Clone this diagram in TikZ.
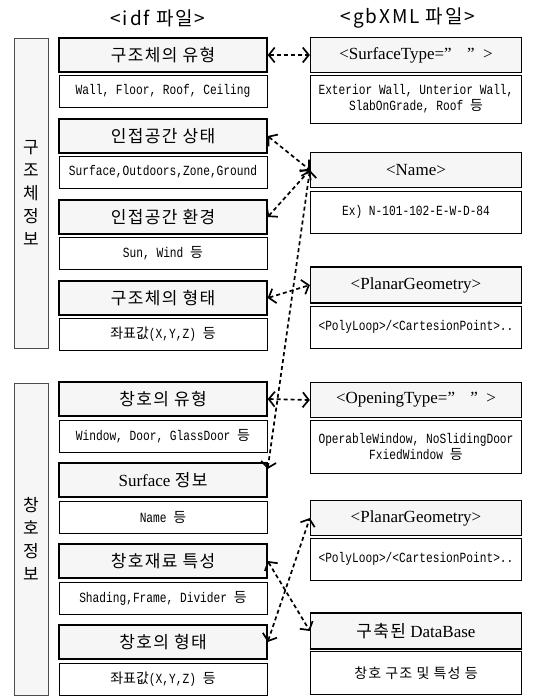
\documentclass[tikz,border=0pt]{standalone}
\usepackage{fontspec}
\setmainfont{Liberation Serif}
\newfontfamily\kr{Noto Sans CJK KR}
\newfontfamily\krt[LetterSpace=8]{Noto Sans CJK KR}
\newfontfamily\krh[LetterSpace=10]{Noto Sans CJK KR}
\newfontfamily\mono[FakeStretch=0.8]{Liberation Mono}
\usetikzlibrary{arrows.meta}

\tikzset{
    titlebox/.style={draw, line width=1.3pt, fill=gray!7, minimum height=34pt, inner sep=0pt,
        font=\fontsize{17}{20}\selectfont},
    itembox/.style={draw, line width=0.6pt, fill=white, inner sep=0pt, align=center,
        font=\mono\fontsize{14}{16}\selectfont},
    groupbar/.style={draw=gray!60!black, line width=1pt, fill=gray!7, minimum width=34pt,
        inner sep=0pt, align=center, font=\krt\fontsize{17}{23}\selectfont},
    header/.style={font=\krh\fontsize{19}{22}\selectfont},
    link/.style={line width=1.7pt, dash pattern=on 4pt off 3pt,
        {Straight Barb[length=6pt,width=15pt]}-{Straight Barb[length=6pt,width=15pt]}},
}

\begin{document}
\begin{tikzpicture}[x=1pt, y=-1pt]
    \useasboundingbox (0,0) rectangle (548,696);

    % column headers
    \node[header] (hidf) at (158,18) {<idf 파일>};
    \node[header] (hxml) at (408,18) {<gbXML 파일>};

    % group bars
    \node[groupbar, minimum height=310pt] (g1) at (31,193) {구\\조\\체\\정\\보};
    \node[groupbar, minimum height=312pt] (g2) at (31,539) {창\\호\\정\\보};

    % idf side, construction
    \node[titlebox, minimum width=208pt] (t1) at (163,55) {\krt 구조체의 유형};
    \node[itembox, minimum width=208pt, minimum height=32pt] (i1) at (163,91) {Wall, Floor, Roof, Ceiling};
    \node[titlebox, minimum width=208pt] (t2) at (163,136) {\krt 인접공간 상태};
    \node[itembox, minimum width=208pt, minimum height=32pt] (i2) at (163,172) {Surface,Outdoors,Zone,Ground};
    \node[titlebox, minimum width=208pt] (t3) at (163,217) {\krt 인접공간 환경};
    \node[itembox, minimum width=208pt, minimum height=32pt] (i3) at (163,253) {Sun, Wind {\kr 등}};
    \node[titlebox, minimum width=208pt] (t4) at (163,298) {\krt 구조체의 형태};
    \node[itembox, minimum width=208pt, minimum height=32pt] (i4) at (163,334) {{\kr 좌표값}(X,Y,Z) {\kr 등}};

    % idf side, openings
    \node[titlebox, minimum width=208pt] (t5) at (163,399) {\krt 창호의 유형};
    \node[itembox, minimum width=208pt, minimum height=32pt] (i5) at (163,436) {Window, Door, GlassDoor {\kr 등}};
    \node[titlebox, minimum width=208pt] (t6) at (163,480) {Surface {\krt 정보}};
    \node[itembox, minimum width=208pt, minimum height=32pt] (i6) at (163,517) {Name {\kr 등}};
    \node[titlebox, minimum width=208pt] (t7) at (163,561) {\krt 창호재료 특성};
    \node[itembox, minimum width=208pt, minimum height=32pt] (i7) at (163,598) {Shading,Frame, Divider {\kr 등}};
    \node[titlebox, minimum width=208pt] (t8) at (163,642) {\krt 창호의 형태};
    \node[itembox, minimum width=208pt, minimum height=32pt] (i8) at (163,679) {{\kr 좌표값}(X,Y,Z) {\kr 등}};

    % gbXML side
    \node[titlebox, minimum width=211pt, minimum height=35pt] (r1) at (416,55) {<SurfaceType=”\hspace{0.9em}”\hspace{0.5em}>};
    \node[itembox, minimum width=211pt, minimum height=48pt] (s1) at (416,99) {Exterior Wall, Unterior Wall,\\SlabOnGrade, Roof {\kr 등}};
    \node[titlebox, minimum width=211pt, minimum height=35pt] (r2) at (416,170) {<Name>};
    \node[itembox, minimum width=211pt, minimum height=42pt] (s2) at (416,212) {Ex) N-101-102-E-W-D-84};
    \node[titlebox, minimum width=211pt, minimum height=36pt] (r3) at (416,285) {<PlanarGeometry>};
    \node[itembox, minimum width=211pt, minimum height=42pt] (s3) at (416,327) {<PolyLoop>/<CartesionPoint>..};
    \node[titlebox, minimum width=211pt, minimum height=35pt] (r4) at (416,400) {<OpeningType=”\hspace{0.9em}”\hspace{0.5em}>};
    \node[itembox, minimum width=211pt, minimum height=53pt] (s4) at (416,447) {OperableWindow, NoSlidingDoor\\FxiedWindow {\kr 등}};
    \node[titlebox, minimum width=211pt, minimum height=35pt] (r5) at (416,518) {<PlanarGeometry>};
    \node[itembox, minimum width=211pt, minimum height=42pt] (s5) at (416,559) {<PolyLoop>/<CartesionPoint>..};
    \node[titlebox, minimum width=211pt, minimum height=36pt] (r6) at (416,631) {{\krt 구축된} DataBase};
    \node[itembox, minimum width=211pt, minimum height=43pt] (s6) at (416,673) {\krt 창호 구조 및 특성 등};

    % mapping links
    \draw[link] (t1.east) -- (r1.west);
    \draw[link] (t2.east) -- (r2.west);
    \draw[link] (t3.east) -- (r2.west);
    \draw[link] (t6.6) -- (r2.west);
    \draw[link] (t4.east) -- (r3.west);
    \draw[link] (t5.east) -- (r4.west);
    \draw[link] (t7.east) -- (r6.west);
    \draw[link] (t8.east) -- (r5.west);
\end{tikzpicture}
\end{document}
